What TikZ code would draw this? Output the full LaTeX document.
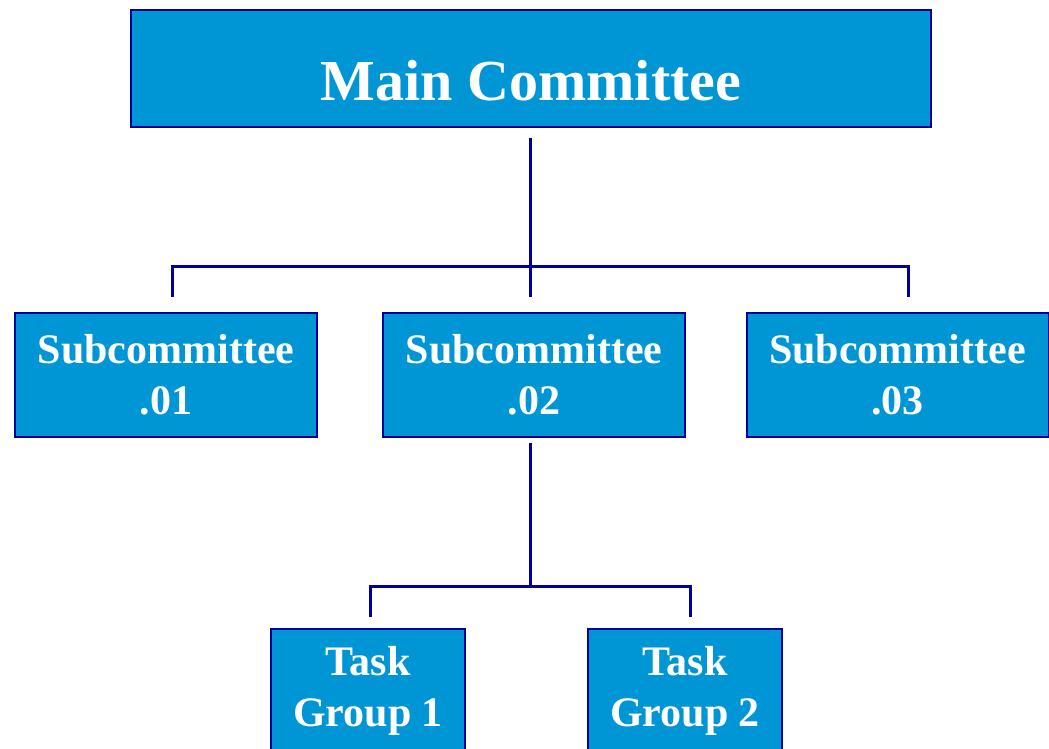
\documentclass[tikz,border=0pt]{standalone}
\usepackage{fontspec}
\setmainfont{Liberation Serif}
\definecolor{boxfill}{RGB}{0,150,214}
\definecolor{boxedge}{RGB}{0,0,153}
\begin{document}
\begin{tikzpicture}[x=1pt, y=-1pt, line join=miter,
    orgbox/.style={draw=boxedge, line width=2pt, fill=boxfill, text=white,
      font=\fontsize{42}{51}\selectfont\bfseries, align=center, inner sep=0pt},
    orgline/.style={draw=boxedge, line width=3pt}]
    % Fix the page size
    \useasboundingbox (0,0) rectangle (1049,749);

    % Define top box
    \node[orgbox, minimum width=800pt, text height=91pt, text depth=26pt,
      font=\fontsize{58}{70}\selectfont\bfseries] (main) at (531,68.5) {Main Committee};

    % Define subcommittee boxes
    \node[orgbox, minimum width=302pt, minimum height=124pt] (sub1) at (166,375) {Subcommittee\\.01};
    \node[orgbox, minimum width=302pt, minimum height=124pt] (sub2) at (534,375) {Subcommittee\\.02};
    \node[orgbox, minimum width=302pt, minimum height=124pt] (sub3) at (897.5,375) {Subcommittee\\.03};

    % Define task group boxes (cut at the page edge)
    \node[orgbox, minimum width=194pt, minimum height=124pt] (task1) at (368,691) {Task\\Group 1};
    \node[orgbox, minimum width=194pt, minimum height=124pt] (task2) at (685,691) {Task\\Group 2};

    % Define connector points
    \coordinate (top) at (530,138);
    \coordinate (bus) at (530,266);
    \coordinate (busL) at (172,266);
    \coordinate (busR) at (908,266);
    \coordinate (dropL) at (172,297);
    \coordinate (dropM) at (530,297);
    \coordinate (dropR) at (908,297);
    \coordinate (mid) at (530,443);
    \coordinate (fork) at (530,586);
    \coordinate (forkL) at (370,586);
    \coordinate (forkR) at (690,586);
    \coordinate (tipL) at (370,617);
    \coordinate (tipR) at (690,617);

    % Draw main committee to subcommittees
    \draw[orgline] (top) -- (bus);
    \draw[orgline] (dropL) -- (busL) -- (busR) -- (dropR);
    \draw[orgline] (bus) -- (dropM);

    % Draw subcommittee .02 to task groups
    \draw[orgline] (mid) -- (fork);
    \draw[orgline] (tipL) -- (forkL) -- (forkR) -- (tipR);
\end{tikzpicture}
\end{document}
